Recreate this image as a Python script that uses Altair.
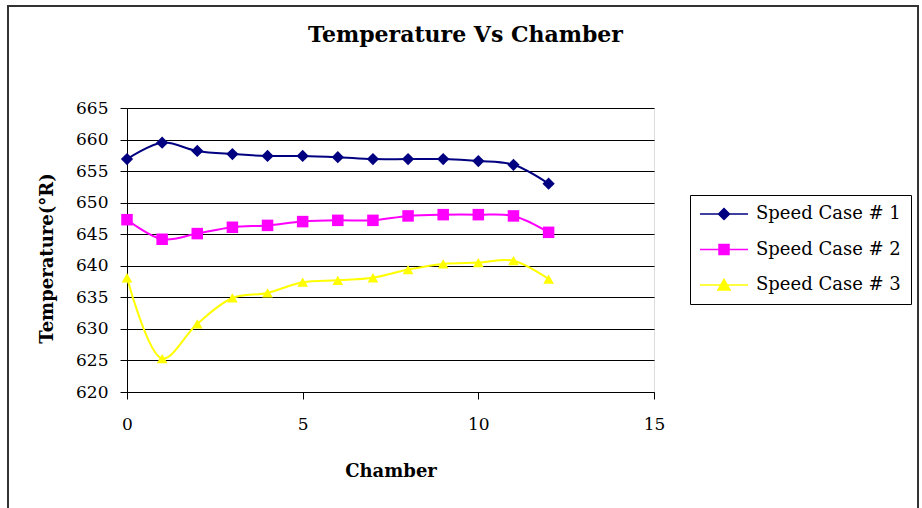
import altair as alt
import pandas as pd

chambers = list(range(13))
series_names = ["Speed Case # 1", "Speed Case # 2", "Speed Case # 3"]
case1 = [656.9, 659.5, 658.2, 657.7, 657.4, 657.4, 657.2, 656.9, 656.9, 656.9, 656.6, 656.0, 653.0]
case2 = [647.3, 644.2, 645.1, 646.1, 646.4, 647.0, 647.2, 647.2, 647.9, 648.1, 648.1, 647.9, 645.3]
case3 = [638.1, 625.3, 630.8, 634.9, 635.7, 637.4, 637.7, 638.1, 639.4, 640.3, 640.5, 640.8, 637.9]
colors = ["#000080", "#FF00FF", "#FFFF00"]
shapes = ["diamond", "square", "triangle-up"]
marker_sizes = [150, 115, 150]
y_ticks = [620, 625, 630, 635, 640, 645, 650, 655, 660, 665]
x_ticks = [0, 5, 10, 15]

rows = []
for name, vals in zip(series_names, [case1, case2, case3]):
    for c, v in zip(chambers, vals):
        rows.append({"Chamber": c, "Temperature": v, "Series": name})
df = pd.DataFrame(rows)

FONT = "DejaVu Serif"

# legend symbols: a line with the marker in its middle
leg_paths = [
    "M-1.8,0H7.8M1.9,0L3,-1.1L4.1,0L3,1.1Z",
    "M-1.8,0H7.8M2,-1H4V1H2Z",
    "M-1.8,0H7.8M3,-1.15L4.2,1H1.8Z",
]

legend = alt.Legend(
    title=None,
    orient="none",
    legendX=563,
    legendY=87,
    fillColor="white",
    strokeColor="black",
    padding=10,
    labelFont=FONT,
    labelFontSize=18,
    labelColor="black",
    labelOffset=38,
    rowPadding=17.5,
    symbolSize=100,
    symbolStrokeWidth=1.5,
    symbolOpacity=1,
)

color_scale = alt.Scale(domain=series_names, range=colors)

x = alt.X(
    "Chamber:Q",
    scale=alt.Scale(domain=[0, 15], nice=False),
    axis=alt.Axis(
        values=x_ticks,
        grid=False,
        title="Chamber",
        titleFont=FONT,
        titleFontSize=18,
        titleFontWeight="bold",
        titleColor="black",
        titleY=84,
        titleBaseline="alphabetic",
        labelFont=FONT,
        labelFontSize=17,
        labelColor="black",
        labelPadding=17,
        tickSize=7,
        tickColor="black",
        domainColor="black",
        labelFlush=False,
    ),
)
y = alt.Y(
    "Temperature:Q",
    scale=alt.Scale(domain=[620, 665], nice=False, zero=False),
    axis=alt.Axis(
        values=y_ticks,
        grid=True,
        gridColor="black",
        gridWidth=1,
        title="Temperature(°R)",
        titleFont=FONT,
        titleFontSize=18,
        titleFontWeight="bold",
        titleColor="black",
        titleX=-75,
        titleY=150,
        titleAlign="center",
        titleBaseline="alphabetic",
        labelFont=FONT,
        labelFontSize=17,
        labelColor="black",
        labelPadding=12,
        tickSize=7,
        tickColor="black",
        domainColor="black",
        labelFlush=False,
    ),
)

frame = alt.Chart(pd.DataFrame({"f": [0]})).mark_rect(
    fill="transparent", stroke="#333333", strokeWidth=2
).encode(
    x=alt.value(-119), x2=alt.value(791), y=alt.value(-102), y2=alt.value(420)
)

lines = alt.Chart(df).mark_line(interpolate="catmull-rom", strokeWidth=2).encode(
    x=x, y=y, color=alt.Color("Series:N", scale=color_scale, legend=None), detail="Series:N"
)
points = alt.Chart(df).mark_point(filled=True, opacity=1).encode(
    x=x,
    y=y,
    color=alt.Color("Series:N", scale=color_scale, legend=None),
    shape=alt.Shape("Series:N", scale=alt.Scale(domain=series_names, range=shapes), legend=None),
    size=alt.Size("Series:N", scale=alt.Scale(domain=series_names, range=marker_sizes), legend=None),
)
# legend-only layer (no rows drawn)
legend_layer = alt.Chart(df).transform_filter("false").mark_point(
    filled=True, size=100, opacity=1, strokeWidth=1.5
).encode(
    x=x,
    y=y,
    color=alt.Color("Series:N", scale=color_scale, legend=legend),
    stroke=alt.Stroke("Series:N", scale=alt.Scale(domain=series_names, range=colors), legend=legend),
    shape=alt.Shape("Series:N", scale=alt.Scale(domain=series_names, range=leg_paths), legend=legend),
)

chart = (
    alt.layer(frame, lines, points, legend_layer)
    .resolve_scale(color="independent", shape="independent", stroke="independent", size="independent")
    .properties(
        width=527,
        height=284,
        autosize=alt.AutoSizeParams(type="none"),
        padding={"left": 127, "top": 108, "right": 268, "bottom": 116},
        title=alt.Title(
            "Temperature Vs Chamber",
            font=FONT,
            fontSize=22,
            fontWeight="bold",
            color="black",
            anchor="middle",
            dx=75,
            offset=-42,
        ),
    )
    .configure_view(fill="#C0C0C0", stroke="#808080", strokeWidth=2)
    .configure(background="white")
)

chart.save("out.html", embed_options={"renderer": "svg", "actions": False})
